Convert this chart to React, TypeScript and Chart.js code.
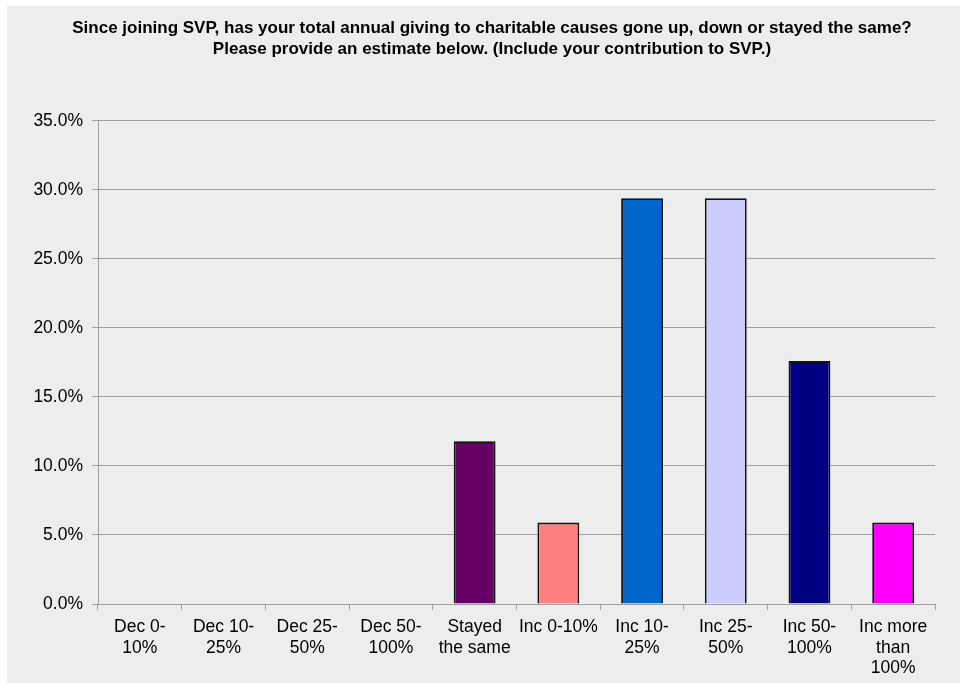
import React, { useEffect, useRef } from "react";
import { Chart, registerables } from "chart.js";

Chart.register(...registerables);

const titleLines = [
  "Since joining SVP, has your total annual giving to charitable causes gone up, down or stayed the same?",
  "Please provide an estimate below. (Include your contribution to SVP.)",
];

const categories: string[][] = [
  ["Dec 0-", "10%"],
  ["Dec 10-", "25%"],
  ["Dec 25-", "50%"],
  ["Dec 50-", "100%"],
  ["Stayed", "the same"],
  ["Inc 0-10%"],
  ["Inc 10-", "25%"],
  ["Inc 25-", "50%"],
  ["Inc 50-", "100%"],
  ["Inc more", "than", "100%"],
];

const values = [0, 0, 0, 0, 11.8, 5.9, 29.4, 29.4, 17.6, 5.9];

const barColors = [
  "#9999ff",
  "#993366",
  "#ffffcc",
  "#ccffff",
  "#660066",
  "#ff8080",
  "#0066cc",
  "#ccccff",
  "#000080",
  "#ff00ff",
];

const yMax = 35;
const yStep = 5;

export default function App() {
  const ref = useRef<HTMLCanvasElement | null>(null);

  useEffect(() => {
    if (!ref.current) return;
    const font = "'Liberation Sans', Arial, sans-serif";
    const chart = new Chart(ref.current, {
      type: "bar",
      data: {
        labels: categories,
        datasets: [
          {
            data: values,
            backgroundColor: barColors,
            borderColor: "#111111",
            borderWidth: 1.8,
            barPercentage: 0.5,
            categoryPercentage: 1,
          },
        ],
      },
      options: {
        animation: false,
        responsive: true,
        maintainAspectRatio: false,
        layout: { padding: { left: 17, right: 0, top: 0, bottom: 0 } },
        plugins: {
          legend: { display: false },
          tooltip: { enabled: false },
          title: {
            display: true,
            text: titleLines,
            color: "#000",
            font: { family: font, size: 17, weight: "bold", lineHeight: 1.235 },
            padding: { top: 11.5, bottom: 61.5 },
          },
        },
        scales: {
          x: {
            offset: true,
            grid: {
              offset: true,
              drawOnChartArea: false,
              drawTicks: true,
              tickLength: 6,
              color: "#a0a0a0",
            },
            border: { display: true, color: "#a0a0a0", width: 1 },
            ticks: {
              color: "#000",
              font: { family: font, size: 17.5, lineHeight: 1.17 },
              padding: 7,
              maxRotation: 0,
              autoSkip: false,
            },
            afterFit: (scale: any) => {
              scale.height = 79;
            },
          },
          y: {
            min: 0,
            max: yMax,
            grid: {
              color: "#a0a0a0",
              tickLength: 6,
              lineWidth: 1,
            },
            border: { display: true, color: "#a0a0a0", width: 1 },
            ticks: {
              stepSize: yStep,
              color: "#000",
              font: { family: font, size: 17.5 },
              padding: 9,
              callback: (v: any) => Number(v).toFixed(1) + "%",
            },
            afterFit: (scale: any) => {
              scale.width = 74;
            },
          },
          yRight: {
            position: "right",
            min: 0,
            max: yMax,
            grid: { display: false, drawOnChartArea: false },
            border: { display: false },
            ticks: { display: false },
            afterFit: (scale: any) => {
              scale.width = 25;
            },
          },
        },
      },
    });
    return () => chart.destroy();
  }, []);

  return (
    <div
      style={{
        position: "absolute",
        left: 7,
        top: 6,
        width: 953,
        height: 677,
        background: "#ededed",
      }}
    >
      <canvas ref={ref} />
    </div>
  );
}
